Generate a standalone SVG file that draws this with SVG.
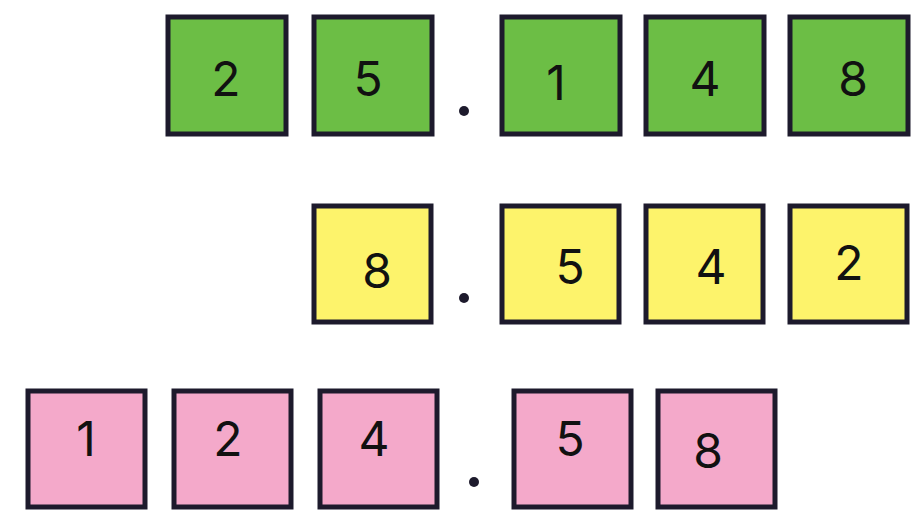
<svg xmlns="http://www.w3.org/2000/svg" width="924" height="519" viewBox="0 0 924 519">
<style>
rect{stroke:#1d1a2c;stroke-width:5}
.g{fill:#6cbe45}.y{fill:#fdf36b}.p{fill:#f4a9ca}
text{font-family:Inter,"Open Sans",sans-serif;font-size:48px;fill:#111;text-anchor:middle}
circle{fill:#1d1a2c}
</style>
<rect width="924" height="519" fill="#fff" style="stroke:none"/>
<g id="row1">
<g id="n1"><rect class="g" x="168" y="17" width="118" height="117"/><text x="226" y="96">2</text></g>
<g id="n2"><rect class="g" x="314" y="17" width="118" height="117"/><text x="368" y="96">5</text></g>
<circle cx="464" cy="111" r="5"/>
<g id="n3"><rect class="g" x="502" y="17" width="118" height="117"/><text x="556" y="100">1</text></g>
<g id="n4"><rect class="g" x="646" y="17" width="118" height="117"/><text x="705" y="96">4</text></g>
<g id="n5"><rect class="g" x="790" y="17" width="118" height="117"/><text x="853" y="96">8</text></g>
</g>
<g id="row2">
<g id="m1"><rect class="y" x="314" y="206" width="117" height="116"/><text x="377" y="288">8</text></g>
<circle cx="464" cy="298" r="5"/>
<g id="m2"><rect class="y" x="502" y="206" width="117" height="116"/><text x="570" y="284">5</text></g>
<g id="m3"><rect class="y" x="646" y="206" width="117" height="116"/><text x="711" y="284">4</text></g>
<g id="m4"><rect class="y" x="790" y="206" width="117" height="116"/><text x="849" y="280">2</text></g>
</g>
<g id="row3">
<g id="k1"><rect class="p" x="28" y="391" width="117" height="116"/><text x="86" y="456">1</text></g>
<g id="k2"><rect class="p" x="174" y="391" width="117" height="116"/><text x="228" y="456">2</text></g>
<g id="k3"><rect class="p" x="320" y="391" width="117" height="116"/><text x="374" y="456">4</text></g>
<circle cx="474" cy="482" r="5"/>
<g id="k4"><rect class="p" x="514" y="391" width="117" height="116"/><text x="570" y="456">5</text></g>
<g id="k5"><rect class="p" x="658" y="391" width="117" height="116"/><text x="708" y="468">8</text></g>
</g>
<g id="connectors"/>
</svg>
